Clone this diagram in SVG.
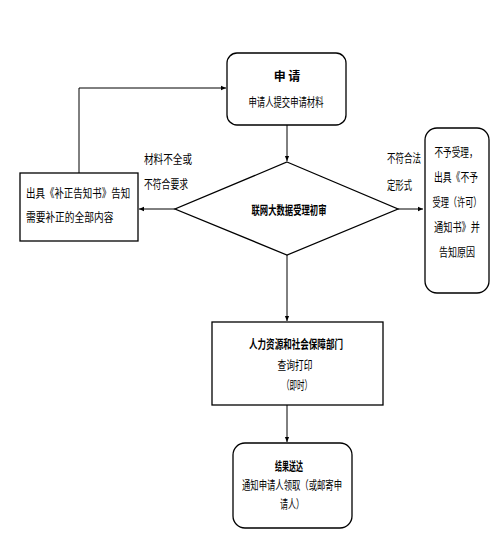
<svg xmlns="http://www.w3.org/2000/svg" width="504" height="556" viewBox="0 0 504 556">
<defs>
<style>
.box{fill:#fff;stroke:#000;stroke-width:1.3}
.ln{fill:none;stroke:#000;stroke-width:1}
text{font-family:"Noto Sans CJK SC","Noto Sans CJK TC",sans-serif;font-size:12px;fill:#000;dominant-baseline:central}
.b{font-weight:bold}
.m{text-anchor:middle}
</style>
<marker id="ah" viewBox="0 0 8 8" refX="7" refY="4" markerWidth="6" markerHeight="6" orient="auto" markerUnits="userSpaceOnUse">
<path d="M0,1 L7,4 L0,7 Z" fill="#000"/>
</marker>
</defs>
<rect width="504" height="556" fill="#fff"/>
<g id="connectors">
<line class="ln" x1="287" y1="125" x2="287" y2="161" marker-end="url(#ah)"/>
<line class="ln" x1="175" y1="209" x2="139" y2="209" marker-end="url(#ah)"/>
<polyline class="ln" points="79,173 79,88 226,88" marker-end="url(#ah)"/>
<line class="ln" x1="398" y1="209" x2="423" y2="209" marker-end="url(#ah)"/>
<line class="ln" x1="287" y1="255" x2="287" y2="321" marker-end="url(#ah)"/>
<line class="ln" x1="287" y1="405" x2="287" y2="442" marker-end="url(#ah)"/>
<text x="144" y="158" textLength="48" lengthAdjust="spacingAndGlyphs">材料不全或</text>
<text x="144" y="183" textLength="44" lengthAdjust="spacingAndGlyphs">不符合要求</text>
<text x="387" y="157" textLength="34" lengthAdjust="spacingAndGlyphs">不符合法</text>
<text x="387" y="184" textLength="25" lengthAdjust="spacingAndGlyphs">定形式</text>
</g>
<g id="apply">
<rect class="box" x="227" y="53" width="119" height="72" rx="10"/>
<text class="b m" x="287" y="75">申 请</text>
<text class="m" x="286" y="101" textLength="75" lengthAdjust="spacingAndGlyphs">申请人提交申请材料</text>
</g>
<g id="review">
<polygon class="box" points="287,162 398,209 287,255 175,209"/>
<text class="b m" x="289" y="209" textLength="75" lengthAdjust="spacingAndGlyphs">联网大数据受理初审</text>
</g>
<g id="supplement">
<rect class="box" x="20" y="173" width="118" height="68"/>
<text transform="translate(26,192) scale(0.79,1)">出具《补正告知书》告知</text>
<text transform="translate(26,217) scale(0.81,1)">需要补正的全部内容</text>
</g>
<g id="reject">
<rect class="box" x="425" y="128" width="64" height="165" rx="12"/>
<text class="m" x="456" y="151" textLength="43" lengthAdjust="spacingAndGlyphs">不予受理，</text>
<text class="m" x="456" y="176" textLength="44" lengthAdjust="spacingAndGlyphs">出具《不予</text>
<text class="m" x="457" y="201" textLength="49" lengthAdjust="spacingAndGlyphs">受理（许可）</text>
<text class="m" x="457" y="226" textLength="46" lengthAdjust="spacingAndGlyphs">通知书》并</text>
<text class="m" x="457" y="251" textLength="36" lengthAdjust="spacingAndGlyphs">告知原因</text>
</g>
<g id="hr">
<rect class="box" x="212" y="322" width="171" height="83"/>
<text class="b m" x="296" y="343" textLength="94" lengthAdjust="spacingAndGlyphs">人力资源和社会保障部门</text>
<text class="m" x="295" y="364" textLength="35" lengthAdjust="spacingAndGlyphs">查询打印</text>
<text class="m" x="297" y="384" textLength="30" lengthAdjust="spacingAndGlyphs">（即时）</text>
</g>
<g id="deliver">
<rect class="box" x="233" y="443" width="119" height="85" rx="12"/>
<text class="b m" x="289" y="465" textLength="28" lengthAdjust="spacingAndGlyphs">结果送达</text>
<text class="m" x="292" y="484" textLength="100" lengthAdjust="spacingAndGlyphs">通知申请人领取（或邮寄申</text>
<text class="m" x="292" y="503" textLength="24" lengthAdjust="spacingAndGlyphs">请人）</text>
</g>
</svg>
